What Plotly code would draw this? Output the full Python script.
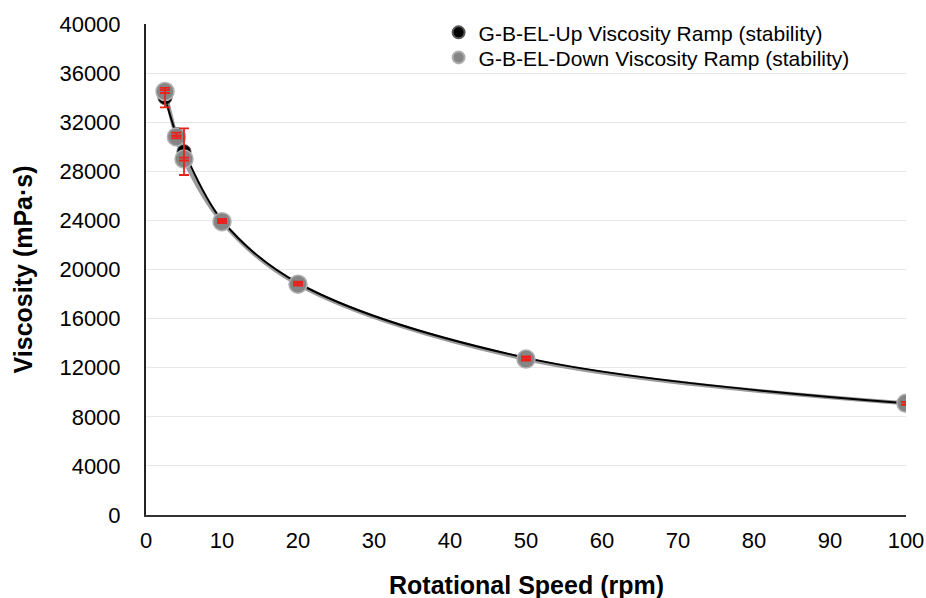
import plotly.graph_objects as go

# Data
speed_up = [2.5, 4, 5, 10, 20, 50, 100]
visc_up = [34000, 31000, 29600, 24000, 18900, 12800, 9100]
err_up = [800, 150, 1900, 120, 120, 120, 120]

speed_down = [2.5, 4, 5, 10, 20, 50, 100]
visc_down = [34500, 30800, 29000, 23900, 18800, 12700, 9100]
err_down = [120, 120, 120, 120, 120, 120, 120]

x_ticks = list(range(0, 101, 10))
y_ticks = list(range(0, 40001, 4000))

name_up = "G-B-EL-Up Viscosity Ramp (stability)"
name_down = "G-B-EL-Down Viscosity Ramp (stability)"
x_title = "Rotational Speed (rpm)"
y_title = "Viscosity (mPa·s)"

FONT = "Liberation Sans, Arial, sans-serif"

fig = go.Figure()

# trend lines
fig.add_trace(go.Scatter(x=speed_down, y=visc_down, mode="lines",
                         line=dict(color="#9a9a9a", width=4, shape="spline", smoothing=1.0),
                         showlegend=False, hoverinfo="skip"))
fig.add_trace(go.Scatter(x=speed_up, y=visc_up, mode="lines",
                         line=dict(color="black", width=2, shape="spline", smoothing=1.0),
                         showlegend=False, hoverinfo="skip"))

# markers
fig.add_trace(go.Scatter(x=speed_up, y=visc_up, mode="markers", name=name_up, legend="legend",
                         marker=dict(color="black", size=14, line=dict(color="#555555", width=1))))
fig.add_trace(go.Scatter(x=speed_down, y=visc_down, mode="markers", name=name_down, legend="legend2",
                         marker=dict(color="#858585", size=18, line=dict(color="#b0b0b0", width=1.5))))

# error bars (drawn on top)
fig.add_trace(go.Scatter(x=speed_up, y=visc_up, mode="markers", showlegend=False,
                         marker=dict(size=1, color="rgba(0,0,0,0)"),
                         error_y=dict(type="data", array=err_up, color="#e8231e", thickness=1.8, width=5),
                         hoverinfo="skip"))
fig.add_trace(go.Scatter(x=speed_down, y=visc_down, mode="markers", showlegend=False,
                         marker=dict(size=1, color="rgba(0,0,0,0)"),
                         error_y=dict(type="data", array=err_down, color="#e8231e", thickness=1.8, width=5),
                         hoverinfo="skip"))

legend_common = dict(xanchor="left", yanchor="top", bgcolor="rgba(0,0,0,0)",
                     font=dict(size=21, family=FONT, color="black"), itemsizing="constant")

fig.update_layout(
    width=926, height=598,
    margin=dict(l=146, r=20, t=22, b=83),
    paper_bgcolor="white", plot_bgcolor="white",
    font=dict(family=FONT, color="black", size=22),
    showlegend=True,
    legend=dict(x=0.385, y=1.024, **legend_common),
    legend2=dict(x=0.385, y=0.973, **legend_common),
    annotations=[
        dict(text="<b>" + x_title + "</b>", xref="paper", yref="paper", x=0.5, y=-0.142,
             xanchor="center", yanchor="middle", showarrow=False,
             font=dict(size=25, family=FONT, color="black")),
        dict(text="<b>" + y_title + "</b>", xref="paper", yref="paper", x=-0.162, y=0.5,
             xanchor="center", yanchor="middle", showarrow=False, textangle=-90,
             font=dict(size=25, family=FONT, color="black")),
    ],
)

fig.update_xaxes(
    range=[0, 100], tickvals=x_ticks, ticktext=[str(v) for v in x_ticks],
    showgrid=False, zeroline=False, automargin=False,
    showline=True, linecolor="#333333", linewidth=2,
    ticks="", ticklabelstandoff=5,
    tickfont=dict(size=22),
)
fig.update_yaxes(
    range=[0, 40000], tickvals=y_ticks, ticktext=[str(v) for v in y_ticks],
    showgrid=True, gridcolor="#e6e6e6", gridwidth=1, zeroline=False, automargin=False,
    showline=True, linecolor="#222222", linewidth=2,
    ticks="", ticklabelstandoff=19,
    tickfont=dict(size=22),
)

fig.write_html("out.html")
